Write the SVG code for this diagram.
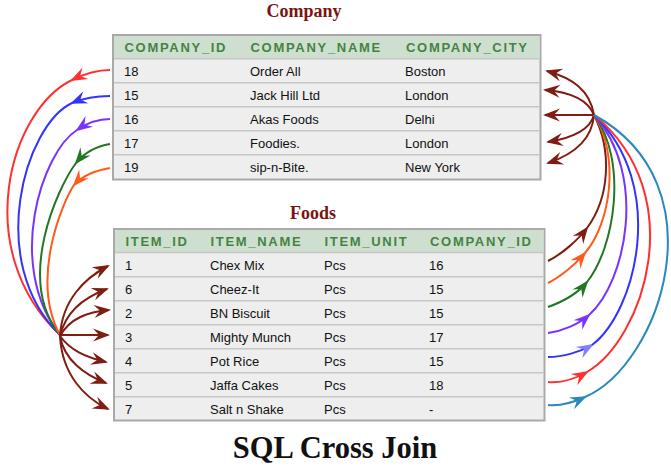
<svg xmlns="http://www.w3.org/2000/svg" width="671" height="473" viewBox="0 0 671 473">
<style>
.title{font-family:"Liberation Serif","Times New Roman",serif;font-weight:bold;font-size:18px;fill:#7a1410;text-anchor:middle}
.main{font-family:"Liberation Serif","Times New Roman",serif;font-weight:bold;font-size:30.5px;fill:#111;text-anchor:middle}
.hd{font-family:"Liberation Sans",Arial,sans-serif;font-weight:bold;font-size:13px;letter-spacing:1.7px;fill:#438443}
.td{font-family:"Liberation Sans",Arial,sans-serif;font-size:13px;fill:#111}
.frame{fill:#eeeeee;stroke:#a9a9a9;stroke-width:2}
.head{fill:#cfdfcf}
.sep{stroke:#c6c6c6;stroke-width:1.5}
.c{fill:none;stroke-width:2}
</style>
<defs>
<path id="ah" d="M2,0 L-15,-6.5 L-9,0 L-15,6.5 Z"/>
<marker id="m-dr" viewBox="-16 -8 19 16" refX="0" refY="0" markerWidth="19" markerHeight="16" markerUnits="userSpaceOnUse" orient="auto"><use href="#ah" fill="#7f1d12"/></marker>
<marker id="m-red" viewBox="-16 -8 19 16" refX="0" refY="0" markerWidth="19" markerHeight="16" markerUnits="userSpaceOnUse" orient="auto"><use href="#ah" fill="#ff3030"/></marker>
<marker id="m-blue" viewBox="-16 -8 19 16" refX="0" refY="0" markerWidth="19" markerHeight="16" markerUnits="userSpaceOnUse" orient="auto"><use href="#ah" fill="#3333ff"/></marker>
<marker id="m-lblue" viewBox="-16 -8 19 16" refX="0" refY="0" markerWidth="19" markerHeight="16" markerUnits="userSpaceOnUse" orient="auto"><use href="#ah" fill="#8080ff"/></marker>
<marker id="m-purple" viewBox="-16 -8 19 16" refX="0" refY="0" markerWidth="19" markerHeight="16" markerUnits="userSpaceOnUse" orient="auto"><use href="#ah" fill="#7a33ff"/></marker>
<marker id="m-green" viewBox="-16 -8 19 16" refX="0" refY="0" markerWidth="19" markerHeight="16" markerUnits="userSpaceOnUse" orient="auto"><use href="#ah" fill="#227722"/></marker>
<marker id="m-orange" viewBox="-16 -8 19 16" refX="0" refY="0" markerWidth="19" markerHeight="16" markerUnits="userSpaceOnUse" orient="auto"><use href="#ah" fill="#ff5a1a"/></marker>
<marker id="m-teal" viewBox="-16 -8 19 16" refX="0" refY="0" markerWidth="19" markerHeight="16" markerUnits="userSpaceOnUse" orient="auto"><use href="#ah" fill="#2a88bb"/></marker>
</defs>
<rect width="671" height="473" fill="#fff"/>

<g id="company-table">
<text class="title" x="304" y="17">Company</text>
<rect class="frame" x="113" y="35" width="427.5" height="144.5"/>
<rect class="head" x="114" y="36" width="425.5" height="22.7"/>
<line class="sep" x1="114" y1="58.7" x2="539.5" y2="58.7"/>
<line class="sep" x1="114" y1="82.7" x2="539.5" y2="82.7"/>
<line class="sep" x1="114" y1="106.7" x2="539.5" y2="106.7"/>
<line class="sep" x1="114" y1="130.7" x2="539.5" y2="130.7"/>
<line class="sep" x1="114" y1="154.7" x2="539.5" y2="154.7"/>
<text class="hd" x="124.5" y="52">COMPANY_ID</text>
<text class="hd" x="250.5" y="52">COMPANY_NAME</text>
<text class="hd" x="406" y="52">COMPANY_CITY</text>
<text class="td" x="124" y="76">18</text><text class="td" x="250" y="76">Order All</text><text class="td" x="405" y="76">Boston</text>
<text class="td" x="124" y="100">15</text><text class="td" x="250" y="100">Jack Hill Ltd</text><text class="td" x="405" y="100">London</text>
<text class="td" x="124" y="124">16</text><text class="td" x="250" y="124">Akas Foods</text><text class="td" x="405" y="124">Delhi</text>
<text class="td" x="124" y="148">17</text><text class="td" x="250" y="148">Foodies.</text><text class="td" x="405" y="148">London</text>
<text class="td" x="124" y="172">19</text><text class="td" x="250" y="172">sip-n-Bite.</text><text class="td" x="405" y="172">New York</text>
</g>

<g id="foods-table">
<text class="title" x="313" y="219">Foods</text>
<rect class="frame" x="114" y="229" width="430.5" height="191.5"/>
<rect class="head" x="115" y="230" width="428.5" height="22.5"/>
<line class="sep" x1="115" y1="252.5" x2="543.5" y2="252.5"/>
<line class="sep" x1="115" y1="276.7" x2="543.5" y2="276.7"/>
<line class="sep" x1="115" y1="300.7" x2="543.5" y2="300.7"/>
<line class="sep" x1="115" y1="324.7" x2="543.5" y2="324.7"/>
<line class="sep" x1="115" y1="348.7" x2="543.5" y2="348.7"/>
<line class="sep" x1="115" y1="372.7" x2="543.5" y2="372.7"/>
<line class="sep" x1="115" y1="396.7" x2="543.5" y2="396.7"/>
<text class="hd" x="125.5" y="246">ITEM_ID</text>
<text class="hd" x="210.5" y="246">ITEM_NAME</text>
<text class="hd" x="324.5" y="246">ITEM_UNIT</text>
<text class="hd" x="430" y="246">COMPANY_ID</text>
<text class="td" x="125" y="270">1</text><text class="td" x="210" y="270">Chex Mix</text><text class="td" x="324" y="270">Pcs</text><text class="td" x="429" y="270">16</text>
<text class="td" x="125" y="294">6</text><text class="td" x="210" y="294">Cheez-It</text><text class="td" x="324" y="294">Pcs</text><text class="td" x="429" y="294">15</text>
<text class="td" x="125" y="318">2</text><text class="td" x="210" y="318">BN Biscuit</text><text class="td" x="324" y="318">Pcs</text><text class="td" x="429" y="318">15</text>
<text class="td" x="125" y="342">3</text><text class="td" x="210" y="342">Mighty Munch</text><text class="td" x="324" y="342">Pcs</text><text class="td" x="429" y="342">17</text>
<text class="td" x="125" y="366">4</text><text class="td" x="210" y="366">Pot Rice</text><text class="td" x="324" y="366">Pcs</text><text class="td" x="429" y="366">15</text>
<text class="td" x="125" y="390">5</text><text class="td" x="210" y="390">Jaffa Cakes</text><text class="td" x="324" y="390">Pcs</text><text class="td" x="429" y="390">18</text>
<text class="td" x="125" y="414">7</text><text class="td" x="210" y="414">Salt n Shake</text><text class="td" x="324" y="414">Pcs</text><text class="td" x="429" y="414">-</text>
</g>

<g id="connectors">
<path class="c" stroke="#ff3030" d="M110,70 C98,70 84,74 72,80" marker-end="url(#m-red)"/>
<path class="c" stroke="#ff3030" d="M72,80 C10,110 -30,250 60,335"/>
<path class="c" stroke="#3333ff" d="M110,96 C98,96 84,98 72,103" marker-end="url(#m-blue)"/>
<path class="c" stroke="#3333ff" d="M72,103 C25,125 -15,262 60,335"/>
<path class="c" stroke="#7a33ff" d="M110,119 C99,119 87,123 77,130" marker-end="url(#m-purple)"/>
<path class="c" stroke="#7a33ff" d="M77,130 C42,152 5,265 60,335"/>
<path class="c" stroke="#227722" d="M110,144 C98,146 85,152 76,163" marker-end="url(#m-green)"/>
<path class="c" stroke="#227722" d="M76,163 C58,187 15,280 60,335"/>
<path class="c" stroke="#ff5a1a" d="M110,168 C98,170 83,175 74,185" marker-end="url(#m-orange)"/>
<path class="c" stroke="#ff5a1a" d="M74,185 C62,203 30,280 60,335"/>
<path class="c" stroke="#7f1d12" d="M60,336 C62,300 85,278 108,266" marker-end="url(#m-dr)"/>
<path class="c" stroke="#7f1d12" d="M60,336 C66,310 85,297 107,289" marker-end="url(#m-dr)"/>
<path class="c" stroke="#7f1d12" d="M60,336 C70,318 88,312 109,310" marker-end="url(#m-dr)"/>
<path class="c" stroke="#7f1d12" d="M60,335 L108,335" marker-end="url(#m-dr)"/>
<path class="c" stroke="#7f1d12" d="M60,336 C70,350 85,357 106,362" marker-end="url(#m-dr)"/>
<path class="c" stroke="#7f1d12" d="M60,336 C64,360 85,375 106,383" marker-end="url(#m-dr)"/>
<path class="c" stroke="#7f1d12" d="M60,336 C62,375 85,398 108,409" marker-end="url(#m-dr)"/>
<path class="c" stroke="#7f1d12" d="M594,115 C590,90 572,78 547,71" marker-end="url(#m-dr)"/>
<path class="c" stroke="#7f1d12" d="M594,115 C588,100 570,92 545,90" marker-end="url(#m-dr)"/>
<path class="c" stroke="#7f1d12" d="M594,115 L545,115" marker-end="url(#m-dr)"/>
<path class="c" stroke="#7f1d12" d="M594,115 C590,130 572,138 548,142" marker-end="url(#m-dr)"/>
<path class="c" stroke="#7f1d12" d="M594,115 C592,140 572,155 548,163" marker-end="url(#m-dr)"/>
<path class="c" stroke="#7f1d12" d="M548,261 C562,254 578,240 587,228" marker-end="url(#m-dr)"/>
<path class="c" stroke="#7f1d12" d="M587,228 C610,197 612,150 594,115"/>
<path class="c" stroke="#ff5a1a" d="M548,283 C560,277 575,265 585,253" marker-end="url(#m-orange)"/>
<path class="c" stroke="#ff5a1a" d="M585,253 C611,223 620,155 594,115"/>
<path class="c" stroke="#227722" d="M548,307 C562,302 578,293 587,282" marker-end="url(#m-green)"/>
<path class="c" stroke="#227722" d="M587,282 C615,247 628,160 594,115"/>
<path class="c" stroke="#7a33ff" d="M548,333 C563,331 579,324 589,315" marker-end="url(#m-purple)"/>
<path class="c" stroke="#7a33ff" d="M589,315 C626,282 648,175 594,115"/>
<path class="c" stroke="#3333ff" d="M548,357 C563,357 580,352 592,345" marker-end="url(#m-lblue)"/>
<path class="c" stroke="#3333ff" d="M592,345 C636,312 668,185 594,115"/>
<path class="c" stroke="#ff3030" d="M548,382 C560,383 575,379 587,372" marker-end="url(#m-red)"/>
<path class="c" stroke="#ff3030" d="M587,372 C643,340 692,195 594,115"/>
<path class="c" stroke="#2a88bb" d="M548,405 C558,406 572,403 585,397" marker-end="url(#m-teal)"/>
<path class="c" stroke="#2a88bb" d="M585,397 C660,365 722,185 594,115"/>
</g>

<g id="caption">
<text class="main" x="335" y="458">SQL Cross Join</text>
</g>
</svg>
